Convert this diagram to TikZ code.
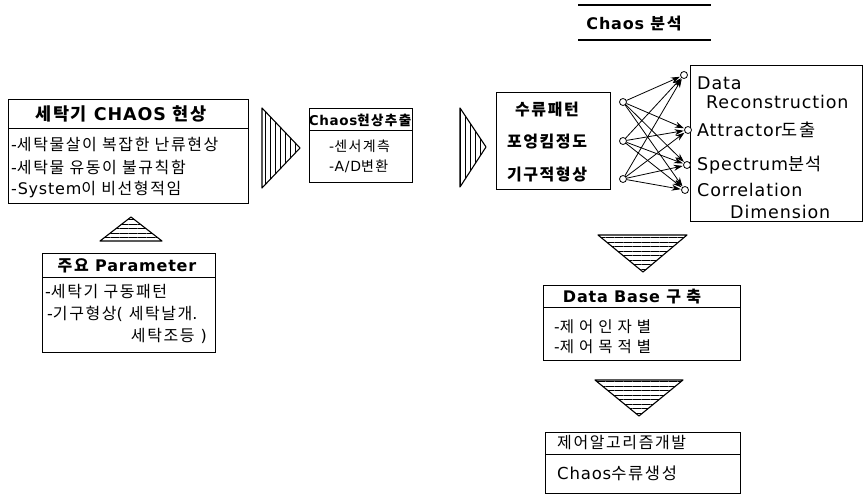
\documentclass[tikz,border=0pt]{standalone}
\usepackage{fontspec}
\setmainfont{DejaVu Sans}[LetterSpace=5]
\newfontfamily\krf{Noto Sans CJK KR}[LetterSpace=10]
\newcommand\K[1]{{\krf #1}}
\usetikzlibrary{patterns.meta,arrows.meta}
\tikzset{
  box/.style={draw, line width=1.2pt, inner sep=0pt, anchor=north west},
  sepline/.style={line width=1pt},
  head/.style={inner sep=0pt, font=\fontsize{16}{18}\selectfont\bfseries},
  row/.style={inner sep=0pt, font=\fontsize{16}{18}\selectfont, anchor=west},
  rbox/.style={row, font=\fontsize{17.5}{20}\selectfont},
  dot/.style={circle, draw, fill=white, inner sep=0pt, minimum size=7pt, line width=0.8pt},
  arr/.style={-{Stealth[length=9pt,width=6pt]}, line width=0.8pt, shorten >=0.5pt},
  hatchV/.style={draw, line width=1.1pt, line join=round, pattern={Lines[angle=90,distance=5pt,line width=0.9pt]}},
  hatchH/.style={draw, line width=1.1pt, line join=round, pattern={Lines[angle=0,distance=4.5pt,line width=0.9pt]}},
}
\begin{document}
\begin{tikzpicture}[x=1pt,y=-1pt]
\useasboundingbox (0,0) rectangle (863,494);

% ---- Box 1
\node[box, minimum width=240pt, minimum height=104pt] (b1) at (8,99) {};
\draw[sepline] (8,129) -- (248,129);
\node[head, font=\fontsize{17.5}{20}\selectfont\bfseries] (b1h) at (121,114) {\K{세탁기} CHAOS \K{현상}};
\node[row] (b1r1) at (11,145) {-\K{세탁물살이 복잡한 난류현상}};
\node[row] (b1r2) at (11,167) {-\K{세탁물 유동이 불규칙함}};
\node[row] (b1r3) at (11,189) {-System\K{이 비선형적임}};

% ---- hatched arrow 1
\draw[hatchV] (262,108) -- (300,148) -- (262,188) -- cycle;

% ---- Box 2
\node[box, minimum width=103pt, minimum height=74pt] (b2) at (309,108) {};
\draw[sepline] (309,131) -- (412,131);
\node[head, font=\fontsize{13.5}{15}\selectfont\bfseries] (b2h) at (360,120) {Chaos\K{현상추출}};
\node[row, font=\fontsize{14}{16}\selectfont] (b2r1) at (329,146) {-\K{센서계측}};
\node[row, font=\fontsize{14}{16}\selectfont] (b2r2) at (329,166) {-A/D\K{변환}};

% ---- hatched arrow 2
\draw[hatchV] (460,108) -- (486,147) -- (460,187) -- cycle;

% ---- Box 3
\node[box, minimum width=114pt, minimum height=97pt] (b3) at (496,92) {};
\node[head] (b3a) at (547,110) {\K{수류패턴}};
\node[head] (b3b) at (547,142) {\K{포엉킴정도}};
\node[head] (b3c) at (547,174) {\K{기구적형상}};

% ---- Title
\node[head] (ttl) at (634,24) {Chaos \K{분석}};
\draw[line width=1.1pt] (578,5) -- (711,5);
\draw[line width=1.1pt] (578,40) -- (711,40);

% ---- Right box
\node[box, minimum width=172pt, minimum height=156pt] (b4) at (690,65) {};
\node[rbox] (t1) at (697,83) {Data};
\node[rbox] (t2) at (706,102) {Reconstruction};
\node[rbox] (t3) at (697,130) {Attractor\K{도출}};
\node[rbox] (t4) at (697,165) {Spectrum\K{분석}};
\node[rbox] (t5) at (697,190) {Correlation};
\node[rbox] (t6) at (730,212) {Dimension};

% ---- network
\node[dot] (L1) at (623,102) {};
\node[dot] (L2) at (623,141) {};
\node[dot] (L3) at (623,179) {};
\node[dot] (R1) at (684,75) {};
\node[dot] (R2) at (688,130) {};
\node[dot] (R3) at (687,165) {};
\node[dot] (R4) at (685,190) {};
\foreach \i in {1,2,3}{
  \foreach \j in {1,2,3,4}{
    \draw[arr] (L\i) -- (R\j);
  }
}

% ---- Up triangle + parameter box
\draw[hatchH] (100,241) -- (131,217) -- (162,241) -- cycle;
\node[box, minimum width=173pt, minimum height=99pt] (b5) at (42,253) {};
\draw[sepline] (42,278) -- (215,278);
\node[head] (b5h) at (127,266) {\K{주요} Parameter};
\node[row] (b5r1) at (45,292) {-\K{세탁기 구동패턴}};
\node[row] (b5r2) at (47,314) {-\K{기구형상}( \K{세탁날개}.};
\node[row, anchor=east] (b5r3) at (207,336) {\K{세탁조등} )};

% ---- Down triangle + DB box
\draw[hatchH] (598,235) -- (687,235) -- (643,272) -- cycle;
\node[box, minimum width=197pt, minimum height=75pt] (b6) at (543,285) {};
\draw[sepline] (543,308) -- (740,308);
\node[head] (b6h) at (632,297) {Data Base \K{구 축}};
\node[row, font=\fontsize{15.5}{17}\selectfont] (b6r1) at (554,327) {-\K{제 어 인 자 별}};
\node[row, font=\fontsize{15.5}{17}\selectfont] (b6r2) at (554,347) {-\K{제 어 목 적 별}};

% ---- Down triangle + last box
\draw[hatchH] (595,380) -- (683,380) -- (639,416) -- cycle;
\node[box, minimum width=195pt, minimum height=61pt] (b7) at (545,432) {};
\draw[sepline] (545,455) -- (740,455);
\node[row] (b7h) at (557,443) {\K{제어알고리즘개발}};
\node[row, font=\fontsize{16.5}{18}\selectfont] (b7r) at (557,473) {Chaos\K{수류생성}};
\end{tikzpicture}
\end{document}
